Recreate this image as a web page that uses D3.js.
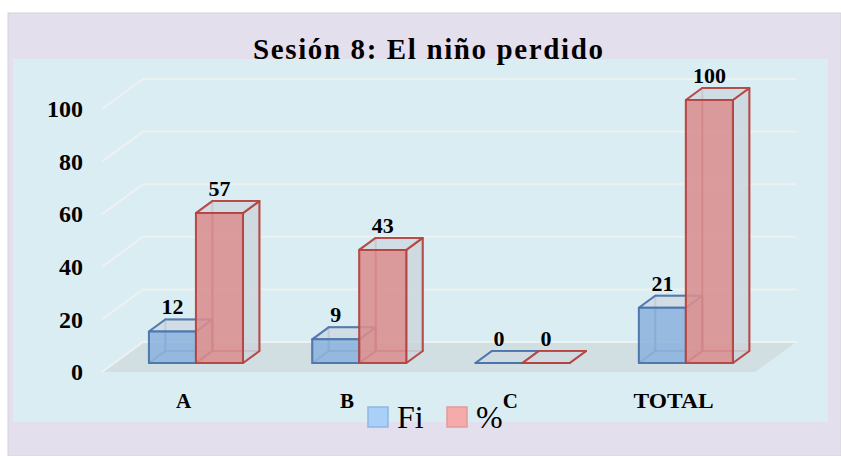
<!DOCTYPE html>
<html>
<head>
<meta charset="utf-8">
<script src="https://cdn.jsdelivr.net/npm/d3@7"></script>
<style>
  body { margin: 0; background: #fff; }
  text { font-family: "Liberation Serif", "Times New Roman", serif; }
</style>
</head>
<body>
<svg id="chart" width="841" height="456"></svg>
<script>
//
// Data
//
const categories = ["A", "B", "C", "TOTAL"]
const seriesNames = ["Fi", "%"]
const fiValues = [12, 9, 0, 21]
const pctValues = [57, 43, 0, 100]
const yTicks = [0, 20, 40, 60, 80, 100]
const titleText = "Sesión 8: El niño perdido"

//
// Configuration
//
const W = 841, H = 456
// oblique depth of the floor (screen px)
const DX = 41, DY = 30
// bars sit between these depth fractions
const fFront = 0.3, fBack = 0.7
const colors = {
  "Fi": { face: "#8cb3dd", edge: "#4a73aa", legend: "#aad0f7", legendEdge: "#8fb7e6" },
  "%":  { face: "#d98e8e", edge: "#b4423f", legend: "#f5abab", legendEdge: "#e59a9a" }
}

const svg = d3.select("#chart")

// outer lavender panel
svg.append("rect").attr("x", 8).attr("y", 13).attr("width", W - 8).attr("height", H - 13)
  .attr("fill", "#e4dfec").attr("stroke", "#d6d4d8").attr("stroke-width", 1)
// plot area
svg.append("rect").attr("x", 13).attr("y", 59).attr("width", 815).attr("height", 363)
  .attr("fill", "#daedf3")

//
// Scales
//
const x = d3.scaleBand().domain(categories).range([102, 755.25]).padding(0)
const xs = d3.scaleBand().domain(seriesNames).range([0, x.bandwidth()]).paddingInner(0).paddingOuter(0.737)
const y = d3.scaleLinear().domain([0, 100]).range([372, 109])

function proj(X, f, v) {
  return [X + f * DX, y(v) - f * DY]
}

// floor
const floorPts = [proj(102, 0, 0), proj(755.25, 0, 0), proj(755.25, 1, 0), proj(102, 1, 0)]
svg.append("polygon").attr("points", floorPts.map(p => p.join(",")).join(" "))
  .attr("fill", "#d1dee2")

// gridlines (side wall diagonal + back wall line)
const grid = svg.append("g")
yTicks.forEach(function(t) {
  const a = proj(102, 0, t), b = proj(102, 1, t), c = proj(755.25, 1, t)
  grid.append("polyline")
    .attr("points", [a, b, c].map(p => p.join(",")).join(" "))
    .attr("fill", "none").attr("stroke", "#eef1f1").attr("stroke-width", 2)
})

// y axis labels
const yAxis = d3.axisLeft(y).tickValues(yTicks).tickSize(0).tickPadding(0)
const ya = svg.append("g").attr("transform", "translate(83,0)").call(yAxis)
ya.select(".domain").remove()
ya.selectAll("text")
  .attr("font-family", "Liberation Serif, serif")
  .attr("font-size", 24).attr("font-weight", "bold").attr("fill", "#000")

//
// 3D boxes
//
function face(g, pts, fill, fillOpacity, stroke, strokeOpacity) {
  g.append("polygon")
    .attr("points", pts.map(p => p.join(",")).join(" "))
    .attr("fill", fill).attr("fill-opacity", fillOpacity)
    .attr("stroke", stroke).attr("stroke-opacity", strokeOpacity)
    .attr("stroke-width", 2).attr("stroke-linejoin", "round")
}

function drawBox(g, x0, w, v, col) {
  const x1 = x0 + w
  // corners
  const fbl = proj(x0, fFront, 0), fbr = proj(x1, fFront, 0)
  const ftl = proj(x0, fFront, v), ftr = proj(x1, fFront, v)
  const bbl = proj(x0, fBack, 0), bbr = proj(x1, fBack, 0)
  const btl = proj(x0, fBack, v), btr = proj(x1, fBack, v)
  // hidden faces (seen through)
  face(g, [bbl, bbr, btr, btl], "none", 0, col.edge, 0.55)
  face(g, [fbl, fbr, bbr, bbl], "#cfd9df", 0.5, col.edge, 0.55)
  face(g, [fbl, bbl, btl, ftl], "none", 0, col.edge, 0.55)
  // visible faces
  face(g, [fbr, bbr, btr, ftr], "#cdd5dc", 0.85, col.edge, 0.9)
  face(g, [ftl, ftr, btr, btl], "#cfd9e0", 0.85, col.edge, 0.9)
  face(g, [fbl, fbr, ftr, ftl], col.face, 0.88, col.edge, 0.9)
}

const bars = svg.append("g")
const labels = svg.append("g")
categories.forEach(function(cat, i) {
  const vals = { "Fi": fiValues[i], "%": pctValues[i] }
  seriesNames.forEach(function(s) {
    const x0 = x(cat) + xs(s)
    drawBox(bars.append("g"), x0, xs.bandwidth(), vals[s], colors[s])
    const p = proj(x0 + xs.bandwidth() / 2, fFront, vals[s])
    labels.append("text")
      .attr("x", p[0])
      .attr("y", y(vals[s]) - fBack * DY - 5)
      .attr("text-anchor", "middle")
      .attr("font-size", 22).attr("font-weight", "bold")
      .text(vals[s])
  })
})

// category labels
svg.append("g").selectAll("text").data(categories).enter().append("text")
  .attr("x", d => x(d) + x.bandwidth() / 2)
  .attr("y", 408)
  .attr("text-anchor", "middle")
  .attr("font-size", 21).attr("font-weight", "bold")
  .attr("textLength", d => d.length > 1 ? 80 : null)
  .attr("lengthAdjust", "spacingAndGlyphs")
  .text(d => d)

// title
svg.append("text")
  .attr("x", 428).attr("y", 59)
  .attr("text-anchor", "middle")
  .attr("font-size", 29).attr("font-weight", "bold")
  .attr("textLength", 350).attr("lengthAdjust", "spacing")
  .text(titleText)

// legend
const legendX = [368, 447]
const legend = svg.append("g")
seriesNames.forEach(function(s, i) {
  legend.append("rect")
    .attr("x", legendX[i]).attr("y", 407).attr("width", 20).attr("height", 20)
    .attr("fill", colors[s].legend).attr("stroke", colors[s].legendEdge).attr("stroke-width", 1.5)
  legend.append("text")
    .attr("x", legendX[i] + 29).attr("y", 428)
    .attr("font-size", 32)
    .text(s)
})
</script>
</body>
</html>
